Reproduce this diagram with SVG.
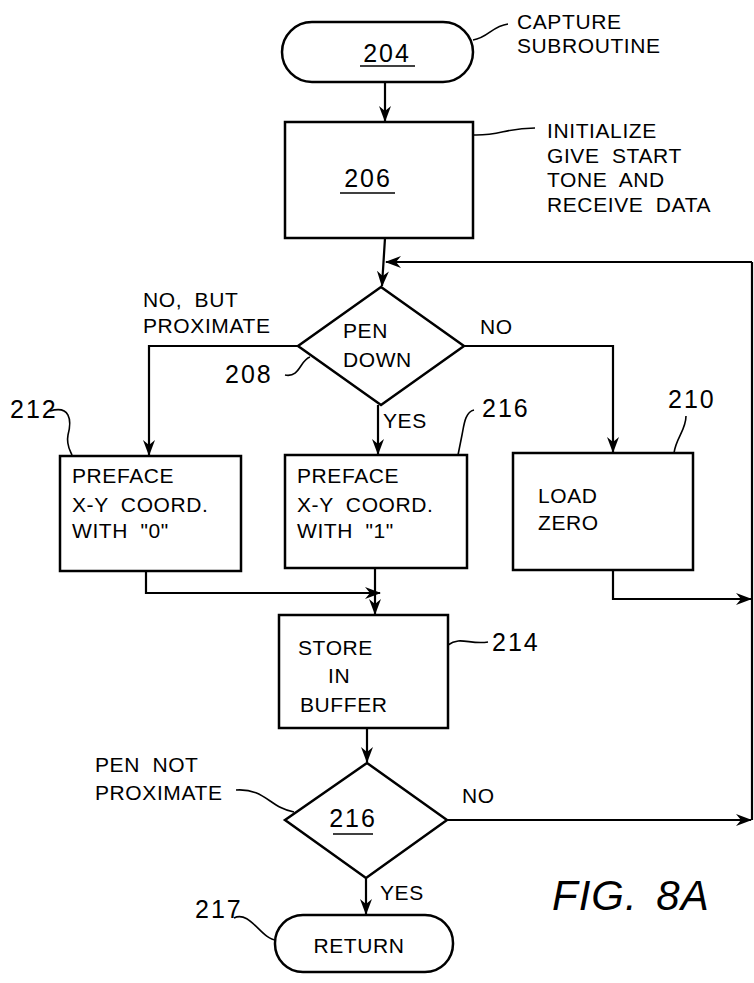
<svg xmlns="http://www.w3.org/2000/svg" width="754" height="983" viewBox="0 0 754 983">
<defs>
<marker id="ah" viewBox="0 0 16 12" refX="15" refY="6" markerWidth="16" markerHeight="12" markerUnits="userSpaceOnUse" orient="auto">
<path d="M0,0 L16,6 L0,12 L5,6 Z" fill="#000"/>
</marker>
</defs>
<style>
.s{fill:#fff;stroke:#000;stroke-width:2.5}
.c{fill:none;stroke:#000;stroke-width:2.2}
.l{fill:none;stroke:#000;stroke-width:1.6}
text{font-family:"Liberation Sans",Arial,sans-serif;font-size:21px;fill:#000;letter-spacing:0.6px;word-spacing:6px}
.n{font-size:25px;letter-spacing:2px}
.fig{font-size:42px;font-style:italic;letter-spacing:1px}
</style>
<rect width="754" height="983" fill="#fff"/>
<g id="connectors">
<line class="c" x1="385" y1="82" x2="385" y2="121" marker-end="url(#ah)"/>
<line class="c" x1="385" y1="238" x2="382" y2="286" marker-end="url(#ah)"/>
<polyline class="c" points="752,262 752,820"/>
<line class="c" x1="752" y1="262" x2="386" y2="262" marker-end="url(#ah)"/>
<polyline class="c" points="298,346 149,346 149,455" marker-end="url(#ah)"/>
<line class="c" x1="378" y1="405" x2="378" y2="454" marker-end="url(#ah)"/>
<polyline class="c" points="464,346 613,346 613,452" marker-end="url(#ah)"/>
<polyline class="c" points="146,571 146,593 380,593" marker-end="url(#ah)"/>
<line class="c" x1="375" y1="568" x2="375" y2="614" marker-end="url(#ah)"/>
<polyline class="c" points="613,570 613,599 751,599" marker-end="url(#ah)"/>
<line class="c" x1="367" y1="728" x2="367" y2="762" marker-end="url(#ah)"/>
<line class="c" x1="447" y1="820" x2="751" y2="820" marker-end="url(#ah)"/>
<line class="c" x1="366" y1="878" x2="366" y2="914" marker-end="url(#ah)"/>
<text x="480" y="334">NO</text>
<text x="383" y="428">YES</text>
<text x="143" y="307">NO, BUT</text>
<text x="143" y="333">PROXIMATE</text>
<text x="462" y="803">NO</text>
<text x="380" y="900">YES</text>
</g>
<g id="n204">
<rect class="s" x="282" y="22" width="191" height="60" rx="30"/>
<text class="n" x="387" y="62" text-anchor="middle">204</text>
<line class="l" x1="360" y1="66" x2="415" y2="66"/>
<path class="l" d="M473,40 C488,38 492,26 508,24"/>
<text x="517" y="29">CAPTURE</text>
<text x="517" y="53">SUBROUTINE</text>
</g>
<g id="n206">
<rect class="s" x="285" y="122" width="188" height="116"/>
<text class="n" x="368" y="187" text-anchor="middle">206</text>
<line class="l" x1="340" y1="193" x2="395" y2="193"/>
<path class="l" d="M473,135 C500,136 505,128 535,128"/>
<text x="547" y="138">INITIALIZE</text>
<text x="547" y="163">GIVE START</text>
<text x="547" y="187">TONE AND</text>
<text x="547" y="212">RECEIVE DATA</text>
</g>
<g id="n208">
<polygon class="s" points="381,287 464,346 381,405 298,346"/>
<text x="343" y="338">PEN</text>
<text x="343" y="367">DOWN</text>
<text class="n" x="225" y="383" letter-spacing="1">208</text>
<path class="l" d="M285,375 C300,378 300,360 310,357"/>
</g>
<g id="n212">
<rect class="s" x="60" y="456" width="181" height="115"/>
<text x="72" y="483">PREFACE</text>
<text x="72" y="512">X-Y COORD.</text>
<text x="72" y="538">WITH "0"</text>
<text class="n" x="10" y="418" letter-spacing="0">212</text>
<path class="l" d="M50,411 C70,405 72,420 68,435 C66,445 70,450 72,455"/>
</g>
<g id="n216">
<rect class="s" x="285" y="455" width="182" height="113"/>
<text x="297" y="483">PREFACE</text>
<text x="297" y="512">X-Y COORD.</text>
<text x="297" y="538">WITH "1"</text>
<text class="n" x="482" y="417" letter-spacing="0">216</text>
<path class="l" d="M474,410 C465,412 464,425 462,435 C460,445 459,450 458,455"/>
</g>
<g id="n210">
<rect class="s" x="513" y="453" width="180" height="117"/>
<text x="538" y="503">LOAD</text>
<text x="538" y="530">ZERO</text>
<text class="n" x="668" y="408" letter-spacing="0">210</text>
<path class="l" d="M686,416 C686,430 676,438 674,453"/>
</g>
<g id="n214">
<rect class="s" x="279" y="615" width="169" height="113"/>
<text x="298" y="655">STORE</text>
<text x="328" y="683">IN</text>
<text x="300" y="712">BUFFER</text>
<text class="n" x="492" y="651" letter-spacing="0">214</text>
<path class="l" d="M448,645 C460,636 470,645 488,642"/>
</g>
<g id="n216d">
<polygon class="s" points="367,763 447,820 366,878 285,820"/>
<text class="n" x="353" y="827" text-anchor="middle" letter-spacing="0">216</text>
<line class="l" x1="333" y1="834" x2="373" y2="834"/>
<text x="95" y="772">PEN NOT</text>
<text x="95" y="800">PROXIMATE</text>
<path class="l" d="M236,790 C265,788 270,808 294,812"/>
</g>
<g id="n217">
<rect class="s" x="275" y="915" width="178" height="57" rx="28"/>
<text x="359" y="953" text-anchor="middle">RETURN</text>
<text class="n" x="195" y="918" letter-spacing="0">217</text>
<path class="l" d="M234,918 C250,910 262,940 276,940"/>
</g>
<text class="fig" x="552" y="910">FIG. 8A</text>
</svg>
